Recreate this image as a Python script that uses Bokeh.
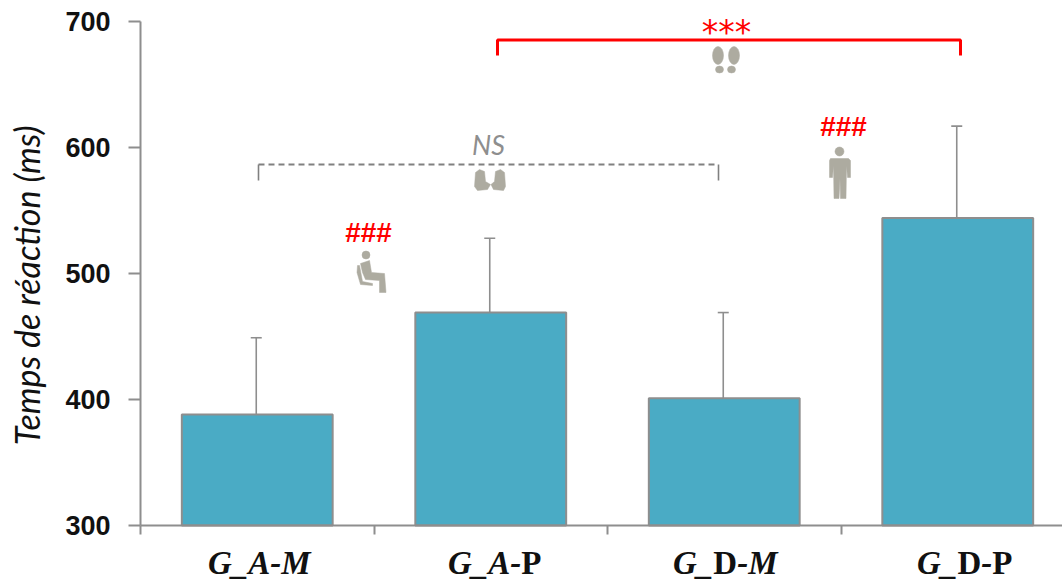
import math
from bokeh.plotting import figure
from bokeh.models import Range1d, FixedTicker
from bokeh.core.properties import value
from bokeh.embed import file_html
from bokeh.resources import INLINE

categories = ["G_A-M", "G_A-P", "G_D-M", "G_D-P"]
means = [388, 469, 401, 544]
upper = [449, 528, 469, 617]
y_ticks = [300, 400, 500, 600, 700]
BLUE, GREY, RED, ICON = "#4AABC5", "#8E8E8E", "#FF0000", "#ADABA0"

# label pieces: text, style, advance width in em
label_segments = [
    [("G_", "bold italic", 1.222), ("A-", "bold italic", 1.0), ("M", "bold italic", 0.889)],
    [("G_", "bold italic", 1.222), ("A-", "bold italic", 1.0), ("P", "bold", 0.611)],
    [("G_", "bold italic", 1.222), ("D", "bold", 0.722), ("-", "bold italic", 0.333), ("M", "bold italic", 0.889)],
    [("G_", "bold italic", 1.222), ("D", "bold", 0.722), ("-", "bold italic", 0.333), ("P", "bold", 0.611)],
]
label_shift = [2, 4, 1, 7]
LABEL_SIZE = 33

W, H = 1062, 584
cat_px = 233.5

def X(px):
    return 0.5 + (px - 140) / cat_px
def Y(py):
    return 700 - (py - 21) * 400 / 504

p = figure(width=W, height=H, output_backend="svg", toolbar_location=None,
           x_range=Range1d(X(0), X(W)), y_range=Range1d(Y(H), Y(0)),
           min_border_left=0, min_border_right=0, min_border_top=0, min_border_bottom=0,
           outline_line_color=None, background_fill_color="white")
p.grid.visible = False

pos = [1, 2, 3, 4]
p.vbar(x=pos, top=means, bottom=300, width=0.646, fill_color=BLUE,
       line_color=GREY, line_width=2)

# error bars
stem = [a - 1 / cat_px for a in pos]
p.segment(x0=stem, y0=means, x1=stem, y1=upper, line_color=GREY, line_width=1.6)
cap = 5.5 / cat_px
p.segment(x0=[a - cap for a in stem], y0=upper, x1=[a + cap for a in stem], y1=upper,
          line_color=GREY, line_width=1.6)

# axes
ax = p.yaxis[0]
ax.fixed_location = 0.5
ax.bounds = (300, 700)
ax.ticker = FixedTicker(ticks=y_ticks)
ax.axis_line_color = GREY; ax.axis_line_width = 2
ax.major_tick_line_color = GREY; ax.major_tick_line_width = 2
ax.major_tick_out = 12; ax.major_tick_in = 0
ax.minor_tick_line_color = None
ax.major_label_text_font = "Liberation Sans"
ax.major_label_text_font_style = "bold"
ax.major_label_text_font_size = "27px"
ax.major_label_text_color = "#111111"
ax.major_label_standoff = 18
ax.axis_label = "Temps de réaction (ms)\u00a0\u00a0\u00a0"
ax.axis_label_text_font = "Lato"
ax.axis_label_text_font_style = "italic"
ax.axis_label_text_font_size = "34px"
ax.axis_label_text_color = "#111111"
ax.axis_label_standoff = 15

xa = p.xaxis[0]
xa.fixed_location = 300
xa.bounds = (0.5, X(W))
xa.ticker = FixedTicker(ticks=[0.5, 1.5, 2.5, 3.5])
xa.major_label_overrides = {0.5: "", 1.5: "", 2.5: "", 3.5: ""}
xa.axis_line_color = GREY; xa.axis_line_width = 2
xa.major_tick_line_color = GREY; xa.major_tick_line_width = 2
xa.major_tick_out = 9; xa.major_tick_in = 0
xa.minor_tick_line_color = None

# category labels
for i, segs in enumerate(label_segments):
    total = sum(s[2] for s in segs) * LABEL_SIZE
    off = -total / 2 + label_shift[i]
    for txt, style, adv in segs:
        p.text(x=[pos[i]], y=[300], text=[txt], x_offset=[off], y_offset=[37],
               text_font=value("Liberation Serif"), text_font_style=style,
               text_font_size=f"{LABEL_SIZE}px", text_align="left",
               text_baseline="middle", text_color="#111111")
        off += adv * LABEL_SIZE

# brackets
p.line([X(497), X(497), X(960), X(960)], [Y(55), Y(39.5), Y(39.5), Y(55)],
       line_color=RED, line_width=3)
p.line([X(258), X(718)], [Y(164), Y(164)],
       line_color="#808080", line_width=1.8, line_dash="6 4")
for bx in [258, 718]:
    p.line([X(bx), X(bx)], [Y(164), Y(180)], line_color="#808080", line_width=1.6)

def note(px, py, t, color, font, size, style="normal"):
    p.text(x=[X(px)], y=[Y(py)], text=[t], text_color=color, text_font=value(font),
           text_font_size=size, text_font_style=style, text_align="center",
           text_baseline="middle")

note(488, 144, "NS", GREY, "Lato", "27px", "italic")
note(368, 232, "###", RED, "Liberation Sans", "28px", "bold")
note(843, 126, "###", RED, "Liberation Sans", "28px", "bold")
note(726, 32, "***", RED, "DejaVu Sans", "33px", "normal")

# pictograms, outlined in pixel offsets
def poly(pts):
    p.patch([X(a) for a, b in pts], [Y(b) for a, b in pts], fill_color=ICON, line_color=ICON,
            line_width=0.5)
def ell(cx, cy, w, h):
    p.ellipse(x=[X(cx)], y=[Y(cy)], width=[w / cat_px], height=[h * 400 / 504],
              fill_color=ICON, line_color=ICON, line_width=0.5)

# seated figure
ell(365.5, 254.5, 8, 8)
poly([(360, 263), (369, 260), (371, 272), (384, 273), (385.5, 292), (379, 292), (379, 280),
      (365, 279), (362, 272)])
poly([(357, 265), (359, 265), (362, 281), (372, 283), (372, 285), (360, 284), (356.5, 272)])

# standing figure
ell(839, 151, 9, 9)
poly([(830, 158), (848, 158), (850, 160), (850, 177), (847, 177), (846, 165), (845.5, 198),
      (840, 198), (839.5, 178), (838.5, 198), (833.5, 198), (833, 165), (832, 177), (829, 177),
      (829, 160)])

# footprints, soles
for cx, hx in [(717.5, 719), (733.5, 731)]:
    ell(cx, 55, 11, 18)
    ell(hx, 69, 8, 7)

# footprints, side by side
poly([(475, 172), (479, 169), (484, 171), (485, 181), (490, 184), (487, 189), (477, 190), (474, 186)])
poly([(504, 172), (500, 169), (495, 171), (494, 181), (490.5, 184), (493, 189), (503, 190), (505, 186)])

open("out.html", "w").write(file_html(p, INLINE))
